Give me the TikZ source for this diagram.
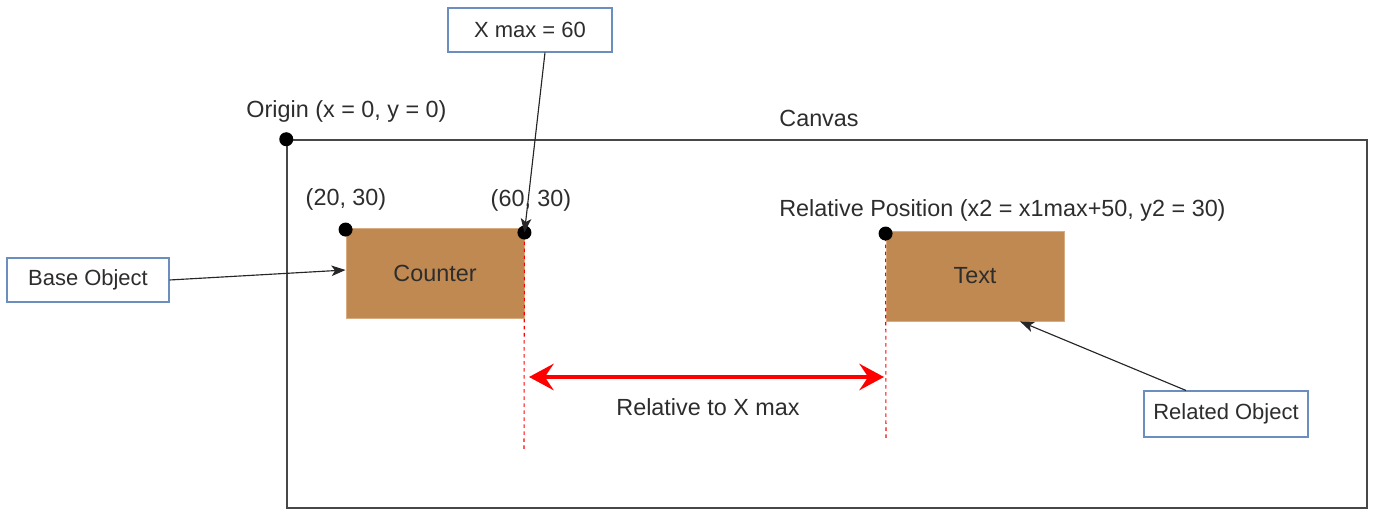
\documentclass[tikz,border=0pt]{standalone}
\usepackage{fontspec}
\setmainfont{Liberation Sans}
\usetikzlibrary{calc,arrows.meta,positioning}

\definecolor{woodfill}{RGB}{192,137,82}
\definecolor{woodline}{RGB}{214,172,128}
\definecolor{noteline}{RGB}{108,142,191}
\definecolor{inkgray}{RGB}{45,45,45}

\begin{document}
\begin{tikzpicture}[x=1cm,y=1cm]

% --- STYLES ---
\tikzset{
  lbl/.style={font=\fontsize{13.3}{16}\selectfont, text=inkgray, inner sep=0pt},
  canvasbox/.style={draw=black!72, line width=0.85pt, inner sep=0pt,
                    minimum width=21.6cm, minimum height=7.36cm},
  widget/.style={draw=woodline, fill=woodfill, line width=0.5pt,
                 minimum width=3.56cm, minimum height=1.8cm,
                 font=\fontsize{13.3}{16}\selectfont, text=inkgray},
  note/.style={draw=noteline, fill=white, line width=0.6pt,
               minimum height=0.88cm, inner sep=0pt,
               font=\fontsize{12.5}{15}\selectfont, text=inkgray},
  blob/.style={circle, fill=black, inner sep=0pt, minimum size=0.28cm},
  pointer/.style={black!85, line width=0.65pt, -{Stealth[length=8pt, width=6pt, inset=2pt]}},
  guide/.style={red, line width=0.6pt, dash pattern=on 2pt off 2pt},
  spanarrow/.style={red, line width=2.3pt,
                    {Stealth[length=14pt, width=15pt, inset=5pt]}-{Stealth[length=14pt, width=15pt, inset=5pt]}},
}

\useasboundingbox (0,0) rectangle (27.5,-10.2);

% ================= CANVAS =================
\node[canvasbox] (canvas) at (16.54,-6.48) {};
\node[lbl] (canvaslbl) at (16.38,-2.36) {Canvas};
\node[lbl] (originlbl) at (6.93,-2.22) {Origin (x = 0, y = 0)};

% ================= OBJECTS =================
\node[widget] (counter) at (8.70,-5.46) {Counter};
\node[widget] (textobj) at (19.50,-5.52) {Text};

\node[lbl] (ptA) at (6.92,-3.98) {(20, 30)};
\node[lbl] (ptB) at (10.62,-4.00) {(60, 30)};
\node[lbl, anchor=west] (relpos) at (15.58,-4.20) {Relative Position (x2 = x1max+50, y2 = 30)};

% ================= NOTES =================
\node[note, minimum width=3.28cm] (xmax)    at (10.60,-0.60) {X max = 60};
\node[note, minimum width=3.24cm] (baseobj) at (1.76,-5.60)  {Base Object};
\node[note, minimum width=3.28cm, minimum height=0.92cm] (relobj) at (24.52,-8.28) {Related Object};

% ================= GUIDES & SPAN =================
\coordinate (guideA) at (10.48,-9.00);
\coordinate (guideB) at (17.72,-8.80);
\draw[guide] (counter.north east) -- (guideA);
\draw[guide] (textobj.north west) -- (guideB);

\coordinate (spanL) at (10.58,-7.54);
\coordinate (spanR) at (17.68,-7.54);
\draw[spanarrow] (spanL) -- (spanR);
\node[lbl] (spanlbl) at (14.16,-8.14) {Relative to X max};

% ================= POINTS =================
\node[blob] (origin) at (canvas.north west) {};
\node[blob] (dotA) at ($(counter.north west)+(0,-0.04)$) {};
\node[blob] (dotB) at ($(counter.north east)+(0,-0.10)$) {};
\node[blob] (dotC) at ($(textobj.north west)+(0,-0.06)$) {};

% ================= POINTERS =================
\draw[pointer] (baseobj.east) -- ($(counter.west)+(0,0.06)$);
\draw[pointer] ($(xmax.south)+(0.3,0)$) -- (dotB.center);
\draw[pointer] ($(relobj.north)+(-0.8,0)$) -- ($(textobj.south)+(0.9,0)$);

\end{tikzpicture}
\end{document}
